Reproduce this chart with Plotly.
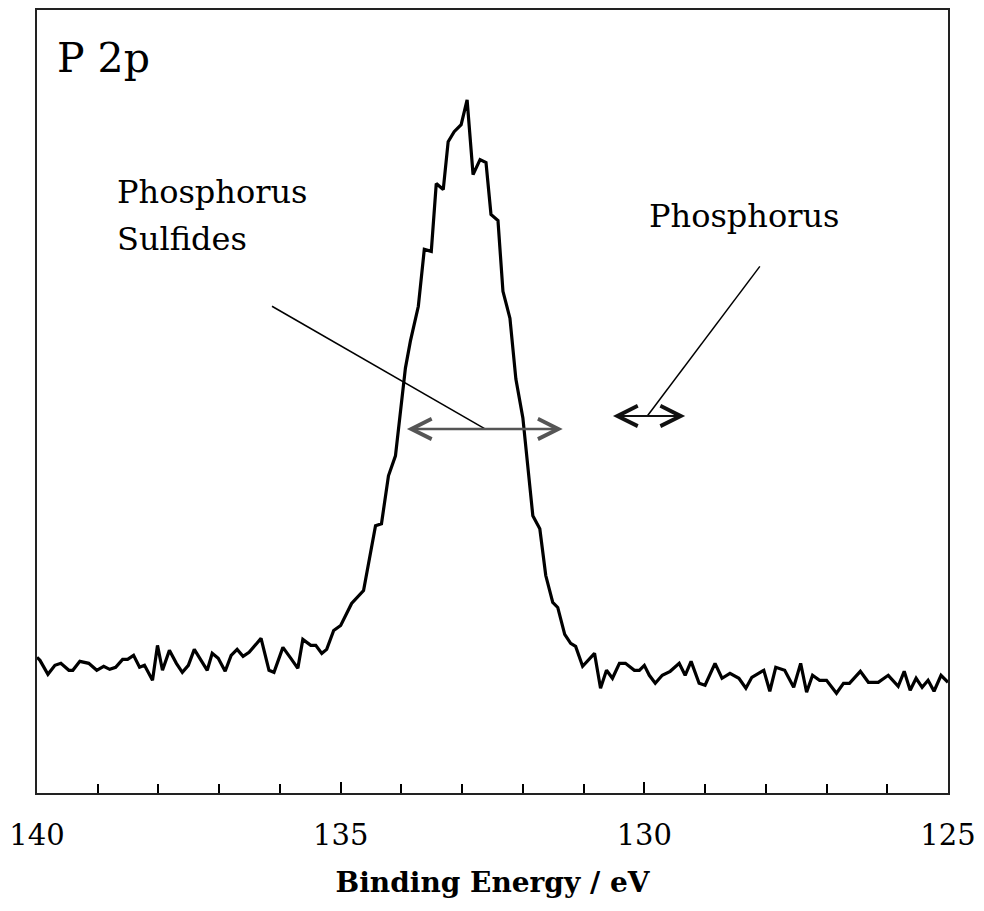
import plotly.graph_objects as go

# Binding energy (eV) and intensity (arbitrary units)
energy = [
    140.000, 139.951, 139.820, 139.705, 139.607, 139.475, 139.410, 139.295, 139.148, 139.016,
    138.902, 138.803, 138.705, 138.590, 138.508, 138.410, 138.311, 138.230, 138.098, 138.016,
    137.934, 137.820, 137.705, 137.607, 137.508, 137.410, 137.197, 137.115, 137.016, 136.902,
    136.803, 136.705, 136.607, 136.508, 136.311, 136.180, 136.098, 135.951, 135.820, 135.705,
    135.623, 135.492, 135.410, 135.311, 135.230, 135.115, 135.000, 134.820, 134.623, 134.426,
    134.328, 134.213, 134.098, 134.000, 133.934, 133.852, 133.721, 133.623, 133.508, 133.426,
    133.311, 133.230, 133.131, 133.016, 132.918, 132.820, 132.705, 132.607, 132.525, 132.410,
    132.328, 132.213, 132.115, 132.000, 131.836, 131.721, 131.623, 131.508, 131.426, 131.311,
    131.213, 131.131, 131.016, 130.820, 130.721, 130.623, 130.525, 130.410, 130.311, 130.164,
    130.082, 130.000, 129.918, 129.820, 129.705, 129.574, 129.426, 129.328, 129.230, 129.098,
    129.000, 128.836, 128.721, 128.590, 128.443, 128.328, 128.230, 128.033, 127.934, 127.836,
    127.689, 127.541, 127.426, 127.328, 127.230, 127.115, 127.000, 126.836, 126.721, 126.623,
    126.443, 126.311, 126.148, 125.984, 125.820, 125.721, 125.623, 125.525, 125.426, 125.328,
    125.230, 125.115, 125.000,
]
intensity = [
    2720, 2660, 2380, 2560, 2600, 2460, 2460, 2640, 2600, 2460,
    2540, 2480, 2520, 2680, 2680, 2760, 2520, 2560, 2260, 2960,
    2460, 2860, 2600, 2420, 2560, 2880, 2460, 2800, 2700, 2440,
    2760, 2880, 2740, 2820, 3100, 2460, 2420, 2920, 2700, 2500,
    3080, 2960, 2960, 2800, 2880, 3260, 3360, 3800, 4060, 5360,
    5400, 6360, 6760, 7900, 8520, 9060, 9760, 10900, 10860, 12220,
    12100, 13060, 13260, 13400, 13900, 12400, 12700, 12640, 11600, 11480,
    10060, 9520, 8300, 7520, 5560, 5300, 4360, 3820, 3720, 3180,
    3000, 2940, 2540, 2800, 2100, 2460, 2300, 2600, 2600, 2460,
    2460, 2560, 2360, 2200, 2360, 2440, 2600, 2360, 2640, 2200,
    2160, 2600, 2300, 2400, 2300, 2100, 2320, 2460, 2040, 2520,
    2460, 2120, 2600, 2020, 2360, 2260, 2260, 2000, 2200, 2200,
    2440, 2220, 2220, 2360, 2140, 2440, 2060, 2300, 2120, 2260,
    2040, 2360, 2220,
]

x_range = [140, 125]
y_range = [0, 15700]
major_ticks = [140, 135, 130, 125]
tick_labels = ["140", "135", "130", "125"]

title_text = "P 2p"
x_title = "Binding Energy / eV"

# Annotation anchors (data units)
sulfide_label = {"x": 138.721, "y1": 12060, "y2": 11100, "lines": ["Phosphorus", "Sulfides"]}
phos_label = {"x": 129.951, "y": 11560, "text": "Phosphorus"}
sulfide_leader = {"x0": 136.131, "y0": 9760, "x1": 132.623, "y1": 7300}
sulfide_range = {"x0": 133.934, "x1": 131.344, "y": 7300}
phos_leader = {"x0": 128.098, "y0": 10560, "x1": 129.951, "y1": 7560}
phos_range = {"x0": 130.541, "x1": 129.328, "y": 7560}

SERIF = "DejaVu Serif"

fig = go.Figure()
fig.add_trace(go.Scatter(
    x=energy, y=intensity, mode="lines",
    line=dict(color="black", width=3.2),
    showlegend=False, hoverinfo="skip",
))

fig.update_layout(
    width=984, height=911,
    margin=dict(l=37, r=32, t=8, b=118),
    paper_bgcolor="white", plot_bgcolor="white",
    showlegend=False,
)

fig.update_xaxes(
    range=x_range,
    showgrid=False, zeroline=False,
    showline=True, mirror=True, linecolor="#222", linewidth=2,
    ticks="inside", ticklen=11, tickwidth=1.5, tickcolor="black",
    tickvals=major_ticks, ticktext=tick_labels,
    tickfont=dict(family=SERIF, size=29, color="black"),
    ticklabelstandoff=15,
    minor=dict(dtick=1, ticks="inside", ticklen=9, tickwidth=1.5, tickcolor="black", showgrid=False),
    title=dict(text="<b>" + x_title + "</b>", font=dict(family=SERIF, size=28, color="black"), standoff=22),
)
fig.update_yaxes(
    range=y_range,
    showgrid=False, zeroline=False,
    showline=True, mirror=True, linecolor="#222", linewidth=2,
    ticks="", showticklabels=False,
)

# Title inside the plot
fig.add_annotation(
    x=139.705, y=14740, xref="x", yref="y", text=title_text, showarrow=False,
    xanchor="left", yanchor="middle",
    font=dict(family=SERIF, size=41, color="black"),
)

# Labels
for line_text, yy in zip(sulfide_label["lines"], [sulfide_label["y1"], sulfide_label["y2"]]):
    fig.add_annotation(
        x=sulfide_label["x"], y=yy, xref="x", yref="y", text=line_text, showarrow=False,
        xanchor="left", yanchor="middle",
        font=dict(family=SERIF, size=32, color="black"),
    )
fig.add_annotation(
    x=phos_label["x"], y=phos_label["y"], xref="x", yref="y", text=phos_label["text"], showarrow=False,
    xanchor="left", yanchor="middle",
    font=dict(family=SERIF, size=32, color="black"),
)

# Leader lines
for ld in (sulfide_leader, phos_leader):
    fig.add_shape(
        type="line", xref="x", yref="y",
        x0=ld["x0"], y0=ld["y0"], x1=ld["x1"], y1=ld["y1"],
        line=dict(color="black", width=1.5),
    )

# Double-headed range arrows
for rg, col, w in ((sulfide_range, "#555", 2.5), (phos_range, "#111", 2)):
    fig.add_annotation(
        x=rg["x1"], y=rg["y"], ax=rg["x0"], ay=rg["y"],
        xref="x", yref="y", axref="x", ayref="y",
        text="", showarrow=True,
        arrowhead=5, startarrowhead=5, arrowside="end+start",
        arrowsize=4.0 / w, startarrowsize=4.0 / w, arrowwidth=w, arrowcolor=col,
    )

fig.write_html("out.html")
